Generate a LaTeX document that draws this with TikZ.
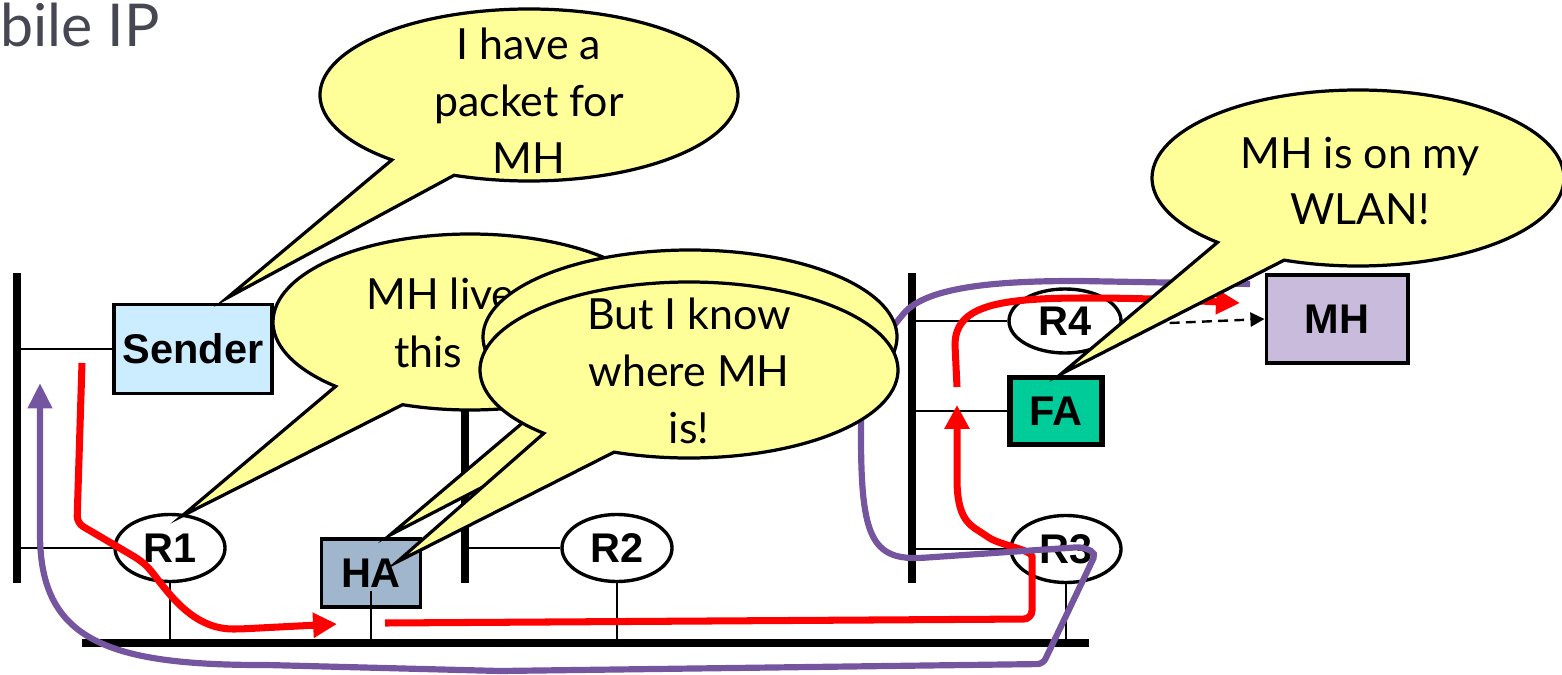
\documentclass[tikz,border=0pt]{standalone}
\usepackage{fontspec}
\setmainfont{Lato}
\newfontfamily\boxfont{Liberation Sans}
\usetikzlibrary{arrows.meta,calc,shapes.geometric}

\definecolor{bubblefill}{HTML}{FFFF99}
\definecolor{senderfill}{HTML}{CCECFF}
\definecolor{hafill}{HTML}{A0B6CC}
\definecolor{fafill}{HTML}{00CC99}
\definecolor{mhfill}{HTML}{C9BBDB}
\definecolor{titlegray}{HTML}{474753}
\definecolor{tunnelcol}{HTML}{7655A0}

\tikzset{
  bar/.style={line width=5pt},
  tap/.style={line width=1.2pt},
  host/.style={draw, rectangle, line width=2.8pt, inner sep=0pt,
    font=\boxfont\bfseries\fontsize{29.5}{32}\selectfont},
  router/.style={draw, ellipse, line width=2.4pt, inner sep=0pt,
    minimum width=2.75cm, minimum height=1.675cm,
    font=\boxfont\bfseries\fontsize{29.5}{32}\selectfont},
  bubble/.style={draw, line width=2.3pt, fill=bubblefill, line join=miter},
  say/.style={align=center, inner sep=0pt, font=\fontsize{30.5}{40.5}\selectfont},
  route/.style={red, line width=5pt, -{Triangle[length=17pt,width=17pt]}},
  tunnel/.style={tunnelcol, line width=4.4pt, -{Triangle[length=18pt,width=16.5pt]}},
}

\begin{document}
\begin{tikzpicture}[x=0.025cm, y=-0.025cm]
    \useasboundingbox (0,0) rectangle (1562,675);

    \node[anchor=base east, inner sep=0pt, text=titlegray,
      font=\fontsize{42}{45}\selectfont] (title) at (160,47) {bile IP};

    % the three LAN segments and the backbone
    \draw[bar] (17,273) coordinate (lbarT) -- (17,583) coordinate (lbarB);
    \draw[bar] (465,380) coordinate (mbarT) -- (465,583) coordinate (mbarB);
    \draw[bar] (912,273) coordinate (rbarT) -- (912,583) coordinate (rbarB);
    \draw[bar] (82,643) coordinate (busL) -- (1089,643) coordinate (busR);

    % hosts and routers
    \node[host, fill=senderfill, minimum width=3.95cm, minimum height=2.225cm] (sender) at (193,349) {Sender};
    \node[host, fill=hafill, minimum width=2.475cm, minimum height=1.7cm] (ha) at (371,573) {HA};
    \node[host, fill=fafill, line width=3.8pt, minimum width=2.3cm, minimum height=1.675cm] (fa) at (1056,411) {FA};
    \node[host, fill=mhfill, minimum width=3.525cm, minimum height=2.2cm] (mh) at (1337,319) {MH};

    \node[router] (r1) at (170,548) {R1};
    \node[router] (r2) at (617,548) {R2};
    \node[router] (r3) at (1066,549) {R3};
    \node[router, minimum width=2.8cm, minimum height=1.6cm] (r4) at (1065,321) {R4};

    \draw[tap] (sender.west) -- (sender.west -| lbarT);
    \draw[tap] (r1.west) -- (r1.west -| lbarT);
    \draw[tap] (r1.south) -- (r1.south |- busL);
    \draw[tap] (ha.south) ++(0,-18) -- (ha.south |- busL);
    \draw[tap] (r2.west) -- (r2.west -| mbarT);
    \draw[tap] (r2.south) -- (r2.south |- busL);
    \draw[tap] (r4.west) -- (r4.west -| rbarT);
    \draw[tap] (fa.west) -- (fa.west -| rbarT);
    \draw[tap] (r3.west) -- (r3.west -| rbarT);
    \draw[tap] (r3.south) -- (r3.south |- busL);

    \draw[line width=1.7pt, dash pattern=on 7pt off 4.5pt, -{Triangle[length=10pt,width=10pt]}]
      ($(r4.east)+(47,2)$) -- (mh.west);

    % packet path: sender -> HA, tunnel to FA, FA -> MH
    \draw[route, rounded corners=5pt] (82,363) -- (77,523) -- (140,560)
      .. controls (160,578) and (185,629) .. (240,629) -- (337,624);
    \draw[route, rounded corners=6pt] (385,623) -- (1032,619) -- (1032,565)
      .. controls (1032,550) and (1000,545) .. (982,533)
      .. controls (962,520) and (957,505) .. (957,470) -- (957,405);
    \draw[route] (957,387) -- (955,345)
      .. controls (955,305) and (1000,298) .. (1086,298)
      .. controls (1150,298) and (1200,301) .. (1240,303);

    % way back to the sender
    \draw[tunnel, rounded corners=4pt] (1250,284) -- (1080,281)
      .. controls (990,281) and (925,288) .. (900,318)
      .. controls (870,355) and (861,390) .. (861,430)
      .. controls (861,530) and (870,558) .. (920,558)
      -- (1082,547) -- (1096,553) -- (1043,664) -- (500,671) -- (267,665)
      .. controls (110,665) and (45,640) .. (40,540) -- (40,383);

    % speech bubbles
    \coordinate (pktTip) at (227,298);
    \coordinate (liveTip) at (182,516);
    \coordinate (haTip) at (390,535);
    \coordinate (knowTip) at (397,562);
    \coordinate (wlanTip) at (1061,374);

    \draw[bubble] (529,95) ++(131:209 and 86)
      arc[start angle=131, end angle=471, x radius=209, y radius=86] -- (pktTip) -- cycle;
    \draw[bubble] (470,322) ++(133:197 and 88)
      arc[start angle=133, end angle=470, x radius=197, y radius=88] -- (liveTip) -- cycle;
    \node[say, anchor=base west] (liveA) at (366,309) {MH live};
    \node[say, anchor=base west] (liveB) at (394,367) {this};
    \draw[bubble] (690,337) ++(133:207 and 87)
      arc[start angle=133, end angle=471, x radius=207, y radius=87] -- (haTip) -- cycle;
    \draw[bubble] (689,370) ++(134:209 and 88)
      arc[start angle=134, end angle=471, x radius=209, y radius=88] -- (knowTip) -- cycle;
    \draw[bubble] (1358,178) ++(133:206 and 88)
      arc[start angle=133, end angle=471, x radius=206, y radius=88] -- (wlanTip) -- cycle;

    \node[say] (pktText) at (529,101) {I have a\\packet for\\MH};
    \node[say] (knowText) at (689,371) {But I know\\where MH\\is!};
    \node[say] (wlanText) at (1360,181) {MH is on my\\WLAN!};

\end{tikzpicture}
\end{document}
